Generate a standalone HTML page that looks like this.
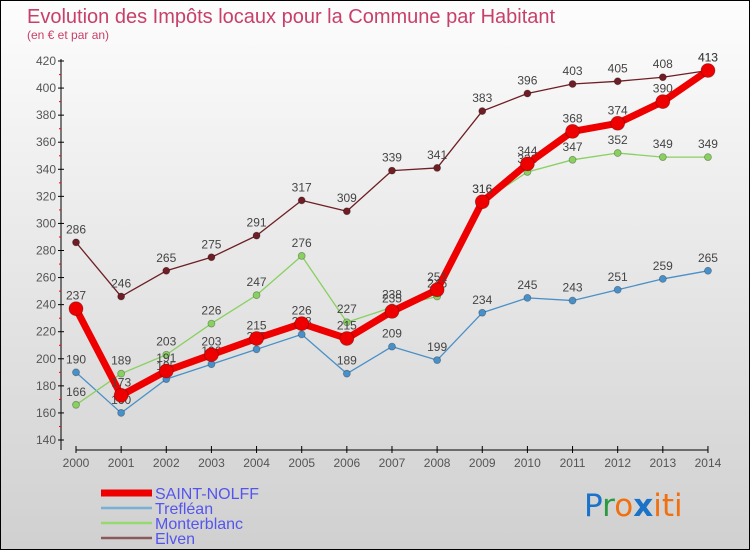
<!DOCTYPE html>
<html><head><meta charset="utf-8"><style>
html,body{margin:0;padding:0}
body{width:750px;height:550px;overflow:hidden;font-family:"Liberation Sans",sans-serif}
#wrap{position:relative;width:748px;height:548px;border:1px solid #000;background:linear-gradient(#fdfdfd,#d0d0d0)}
</style></head><body>
<div id="wrap">
<svg id="chart" width="748" height="548">
<text x="26" y="22" font-size="20" fill="#c8406a">Evolution des Impôts locaux pour la Commune par Habitant</text>
<text x="26" y="38" font-size="12" fill="#c8406a">(en € et par an)</text>
<g id="axes"></g><g id="series"></g><g id="legend"></g>
<text x="583" y="515" font-size="31" font-family="DejaVu Sans"><tspan fill="#1a73c8">P</tspan><tspan fill="#2a9a40">r</tspan><tspan fill="#f07010">o</tspan><tspan fill="#1a73c8" font-weight="bold">x</tspan><tspan fill="#f07010">iti</tspan></text>
</svg></div>
<script>
const years=[2000,2001,2002,2003,2004,2005,2006,2007,2008,2009,2010,2011,2012,2013,2014];
const yTicks=[140,160,180,200,220,240,260,280,300,320,340,360,380,400,420];
const saintNolff=[237,173,191,203,215,226,215,235,251,316,344,368,374,390,413];
const treflean=[190,160,185,196,207,218,189,209,199,234,245,243,251,259,265];
const monterblanc=[166,189,203,226,247,276,227,238,246,316,338,347,352,349,349];
const elven=[286,246,265,275,291,317,309,339,341,383,396,403,405,408,413];
const NS="http://www.w3.org/2000/svg";
const xs=i=>75+i*45.14;
const ys=v=>439-(v-140)*(379/280);
function mk(tag,attrs,parent){const e=document.createElementNS(NS,tag);for(const k in attrs)e.setAttribute(k,attrs[k]);parent.appendChild(e);return e;}
const ax=document.getElementById('axes');
let l=mk('line',{x1:60,y1:58,x2:60,y2:449,stroke:'#000'},ax);


l=mk('line',{x1:75,y1:449,x2:707,y2:449,stroke:'#000'},ax);


yTicks.forEach(v=>{
 const y=ys(v);
 mk('line',{x1:57,y1:y,x2:63,y2:y,stroke:'#000'},ax);
 if(v<420) mk('line',{x1:58,y1:y-13.5,x2:60,y2:y-13.5,stroke:'#f00'},ax);
 const t=mk('text',{x:55,y:y+4,'font-size':12,fill:'#555','text-anchor':'end'},ax);t.textContent=v;
 
 
});
years.forEach((yr,i)=>{
 const x=xs(i);
 mk('line',{x1:x,y1:445,x2:x,y2:452,stroke:'#000'},ax);
 const t=mk('text',{x:x,y:466,'font-size':12,fill:'#555','text-anchor':'middle'},ax);t.textContent=yr;
 
 
});
const sg=document.getElementById('series');
const defs=[
 {d:elven,c:'#6e1e24',w:1.3,r:3.5,name:'elven'},
 {d:treflean,c:'#4a90c8',w:1.3,r:3.5,name:'treflean'},
 {d:monterblanc,c:'#88d060',w:1.3,r:3.5,name:'monterblanc'},
 {d:saintNolff,c:'#ee0000',w:7,r:7,name:'saint-nolff'}
];
defs.forEach(s=>{
 const g=mk('g',{},sg);
 
 
 const p=mk('polyline',{points:s.d.map((v,i)=>xs(i)+','+ys(v)).join(' '),fill:'none',stroke:s.c,'stroke-width':s.w,'stroke-linejoin':'round'},g);
 
 
 s.d.forEach((v,i)=>{
  const c=mk('circle',{cx:xs(i),cy:ys(v),r:s.r,fill:s.c,stroke:'rgba(0,0,0,0.3)','stroke-width':0.8},g);
  
  
  const t=mk('text',{x:xs(i),y:ys(v)-9,'font-size':12,fill:'#444','text-anchor':'middle'},g);t.textContent=v;
  
  
 });
});
const lg=document.getElementById('legend');
const leg=[['SAINT-NOLFF','#ee0000',7],['Trefléan','#7ab0d8',2.5],['Monterblanc','#98d870',2.5],['Elven','#8a5a5a',2.5]];
leg.forEach((e,i)=>{
 const y=492+i*15;
 const g=mk('g',{},lg);
 
 
 mk('line',{x1:100,y1:y,x2:151,y2:y,stroke:e[1],'stroke-width':e[2]},g);
 const t=mk('text',{x:154,y:y+6,'font-size':16,fill:'#5555ee'},g);t.textContent=e[0];
});
</script>
</body></html>
